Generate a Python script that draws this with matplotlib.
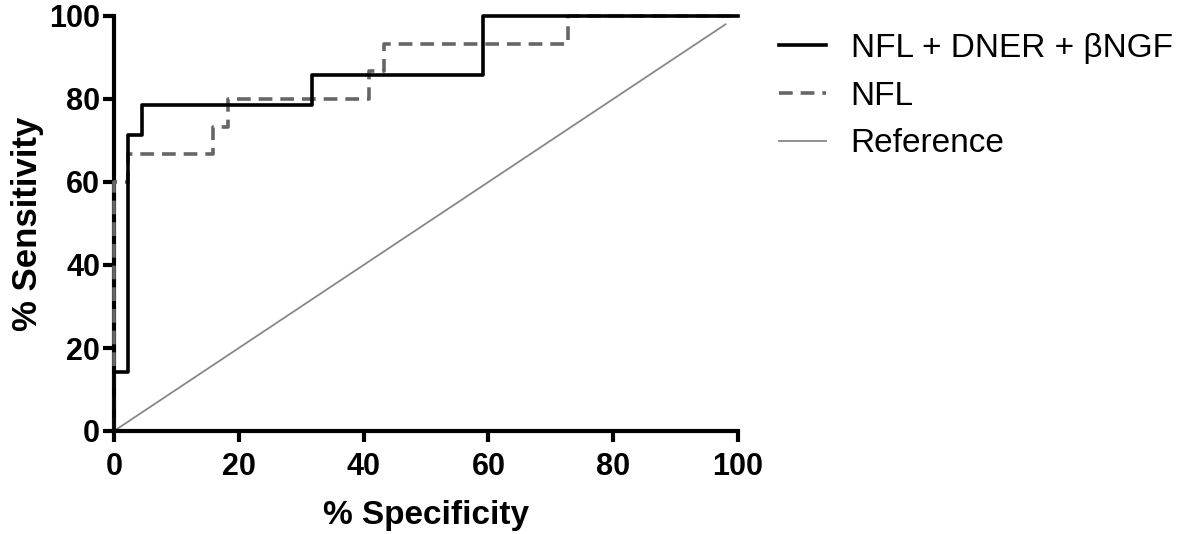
import numpy as np
import matplotlib
matplotlib.use("Agg")
import matplotlib.pyplot as plt

# ROC data (specificity %, sensitivity %)
combo_spec = [0, 0, 2.27, 4.55, 31.8, 59.1, 100]
combo_sens = [0, 14.3, 71.4, 78.6, 85.7, 100, 100]
nfl_spec = [0, 0, 2.27, 15.9, 18.2, 40.9, 43.2, 72.7, 100]
nfl_sens = [0, 60, 66.7, 73.3, 80, 86.7, 93.3, 100, 100]
ref_x = [0, 98]
ref_y = [0, 98]

labels = ['NFL + DNER + \u03b2NGF', 'NFL', 'Reference']
xticks = [0, 20, 40, 60, 80, 100]
yticks = [0, 20, 40, 60, 80, 100]

plt.rcParams['font.family'] = ['Liberation Sans', 'DejaVu Sans']

fig = plt.figure(figsize=(11.81, 5.34), dpi=100)
ax = fig.add_axes([114 / 1181, 1 - 431 / 534, 624 / 1181, 415 / 534])

ax.plot(ref_x, ref_y, color='#888888', lw=1.3, label=labels[2], clip_on=False, zorder=2)
ax.plot(nfl_spec, nfl_sens, drawstyle='steps-post', color='#666666', lw=2.6,
        dashes=(3.8, 2.2), label=labels[1], clip_on=False, zorder=3)
ax.plot(combo_spec, combo_sens, drawstyle='steps-post', color='black', lw=2.6,
        label=labels[0], clip_on=False, zorder=4)

ax.set_xlim(0, 100)
ax.set_ylim(0, 100)
for s in ['top', 'right']:
    ax.spines[s].set_visible(False)
for s in ['left', 'bottom']:
    ax.spines[s].set_linewidth(3)
ax.set_xticks(xticks)
ax.set_yticks(yticks)
ax.tick_params(width=3, length=8, direction='out')
ax.set_yticklabels([str(t) for t in yticks], fontsize=22, fontweight='bold')
ax.set_xticklabels([str(t) for t in xticks], fontsize=22, fontweight='bold')
ax.tick_params(axis='y', pad=2)
ax.tick_params(axis='x', pad=7)
ax.set_xlabel('% Specificity', fontsize=24, fontweight='bold', labelpad=13)
ax.set_ylabel('% Sensitivity', fontsize=25, fontweight='bold', labelpad=4)

h, l = ax.get_legend_handles_labels()
order = [2, 1, 0]
fig.legend([h[i] for i in order], [l[i] for i in order], loc='upper left',
           bbox_to_anchor=(779 / 1181, 1 - 33 / 534), frameon=False, fontsize=24,
           handlelength=1.4, handletextpad=0.75, labelspacing=0.5,
           borderpad=0, borderaxespad=0)

plt.savefig('out.png', dpi=100)
